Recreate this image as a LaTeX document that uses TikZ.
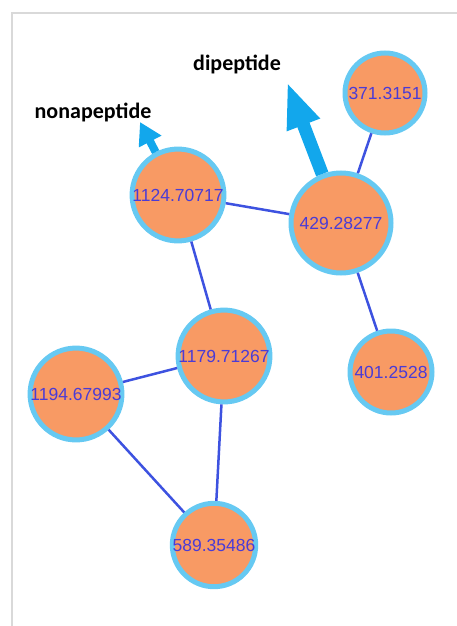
\documentclass[tikz,border=0pt]{standalone}
\usepackage{fontspec}
\setmainfont{Liberation Sans}
\newfontfamily\labelfont{Carlito}
\usetikzlibrary{arrows.meta}
\definecolor{peakfill}{HTML}{F89A64}
\definecolor{peakring}{HTML}{66C9F2}
\definecolor{peaktext}{HTML}{4A3BD6}
\definecolor{linkblue}{HTML}{3D52E0}
\definecolor{tagcyan}{HTML}{12A7EC}
\definecolor{framegray}{HTML}{D9D9D9}
\tikzset{peak/.style={draw=peakring, line width=5pt, fill=peakfill, circle,
    inner sep=0pt, text=peaktext, font=\fontsize{17.5}{17.5}\selectfont},
  link/.style={draw=linkblue, line width=2.5pt},
  tag/.style={font=\labelfont\bfseries\fontsize{22}{22}\selectfont, text=black},
  pointer/.style={draw=tagcyan, fill=tagcyan}}

\begin{document}
\begin{tikzpicture}[x=1pt, y=-1pt]
          \useasboundingbox (0,0) rectangle (457,626);
          \draw[framegray, line width=2pt] (12,626) -- (12,13) -- (457,13);

          \node at (385, 93) [peak, minimum size=80pt] (p371) {371.3151};
          \node at (178,195) [peak, minimum size=82pt] (p1124) {1124.70717};
          \node at (341,223) [peak, minimum size=100pt] (p429) {429.28277};
          \node at (224,356) [peak, minimum size=82pt] (p1179) {1179.71267};
          \node at (76,394) [peak, minimum size=82pt] (p1194) {1194.67993};
          \node at (391,372) [peak, minimum size=82pt] (p401) {401.2528};
          \node at (214,545) [peak, minimum size=82pt] (p589) {589.35486};

          \node at (93,112) [tag] (nona) {nonapeptide};
          \node at (237,64) [tag] (dipe) {dipeptide};
          \coordinate (nonatip) at (140,122);
          \coordinate (dipetip) at (287,82);

          \draw[pointer, line width=8pt, -{Triangle[width=24pt, length=22pt]}]
            (p1124) -- (nonatip);
          \draw[pointer, line width=13pt, -{Triangle[width=32pt, length=46pt]}]
            (p429) -- (dipetip);

          \foreach \a / \b in {p371/p429, p1124/p429, p1124/p1179, p429/p401,
            p1179/p1194, p1179/p589, p1194/p589} {
            \draw[link] (\a) -- (\b);
          }
        \end{tikzpicture}
\end{document}
